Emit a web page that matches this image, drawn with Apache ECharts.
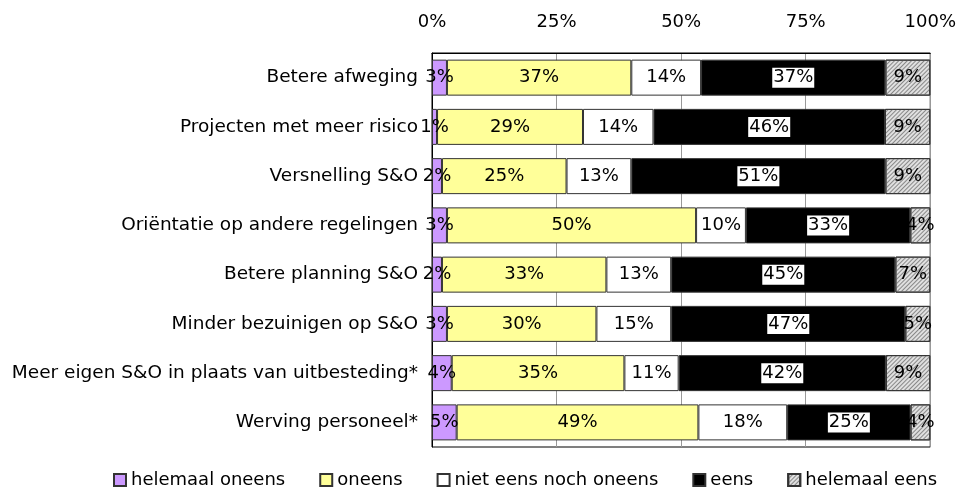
<!DOCTYPE html>
<html>
<head>
<meta charset="utf-8">
<script src="https://cdn.jsdelivr.net/npm/echarts@6/dist/echarts.min.js"></script>
<style>
  html, body { margin: 0; padding: 0; background: #fff; }
  #chart { width: 959px; height: 492px; }
</style>
</head>
<body>
<div id="chart"></div>
<script>
// categorieën (van boven naar beneden)
var categories = [
  'Betere afweging',
  'Projecten met meer risico',
  'Versnelling S&O',
  'Oriëntatie op andere regelingen',
  'Betere planning S&O',
  'Minder bezuinigen op S&O',
  'Meer eigen S&O in plaats van uitbesteding*',
  'Werving personeel*'
]
var helemaalOneens = [3, 1, 2, 3, 2, 3, 4, 5]
var oneens = [37, 29, 25, 50, 33, 30, 35, 49]
var neutraal = [14, 14, 13, 10, 13, 15, 11, 18]
var eens = [37, 46, 51, 33, 45, 47, 42, 25]
var helemaalEens = [9, 9, 9, 4, 7, 5, 9, 4]
var tickLabels = ['0%', '25%', '50%', '75%', '100%']

var font = 'DejaVu Sans, Verdana, sans-serif'
var rows = [helemaalOneens, oneens, neutraal, eens, helemaalEens]
// totalen per categorie (balk loopt altijd tot 100%)
var totals = categories.map(function (c, i) {
  return rows.reduce(function (s, r) { return s + r[i] }, 0)
})

function makeLabel (extra) {
  return Object.assign({
    show: true,
    position: 'inside',
    color: '#000',
    fontFamily: font,
    fontSize: 18,
    formatter: function (p) { return p.data.raw + '%' }
  }, extra || {})
}

function makeSeries (name, values, color, extra) {
  return Object.assign({
    name: name,
    type: 'bar',
    stack: 'totaal',
    barWidth: 36,
    data: values.map(function (v, i) { return { value: v * 100 / totals[i], raw: v } }),
    itemStyle: { color: color, borderColor: '#333', borderWidth: 1 },
    label: makeLabel()
  }, extra || {})
}

var chart = echarts.init(document.getElementById('chart'))
var option = {
  animation: false,
  textStyle: { fontFamily: font },
  grid: { left: 432, right: 28, top: 53, bottom: 45, show: true, borderColor: '#000', borderWidth: 1 },
  legend: {
    top: 466,
    left: 108,
    icon: 'rect',
    itemWidth: 12,
    itemHeight: 12,
    itemGap: 34,
    textStyle: { fontSize: 18, color: '#000', fontFamily: font },
    data: ['helemaal oneens', 'oneens', 'niet eens noch oneens', 'eens', 'helemaal eens']
  },
  xAxis: {
    type: 'value',
    position: 'top',
    min: 0,
    max: 100,
    interval: 25,
    axisLine: { show: true, lineStyle: { color: '#000' } },
    axisTick: { show: false },
    axisLabel: {
      color: '#000',
      fontSize: 18,
      fontFamily: font,
      margin: 22,
      formatter: function (v) { return tickLabels[v / 25] }
    },
    splitLine: { show: true, lineStyle: { color: '#999', width: 1 } }
  },
  yAxis: {
    type: 'category',
    inverse: true,
    data: categories,
    axisLine: { show: true, lineStyle: { color: '#000' } },
    axisTick: { show: false },
    axisLabel: { color: '#000', fontSize: 18.5, fontFamily: font, margin: 14 }
  },
  series: [
    makeSeries('helemaal oneens', helemaalOneens, '#CC99FF'),
    makeSeries('oneens', oneens, '#FFFF99'),
    makeSeries('niet eens noch oneens', neutraal, '#FFFFFF'),
    makeSeries('eens', eens, '#000000', {
      label: makeLabel({ backgroundColor: '#fff', padding: [2, 1, 0, 1] })
    }),
    makeSeries('helemaal eens', helemaalEens, '#E0E0E0', {
      itemStyle: {
        color: '#E0E0E0',
        borderColor: '#333',
        borderWidth: 1,
        decal: {
          symbol: 'rect',
          color: '#888',
          dashArrayX: [1, 0],
          dashArrayY: [1, 2],
          rotation: -Math.PI / 4,
          symbolSize: 1
        }
      }
    })
  ]
}
chart.setOption(option)
</script>
</body>
</html>
